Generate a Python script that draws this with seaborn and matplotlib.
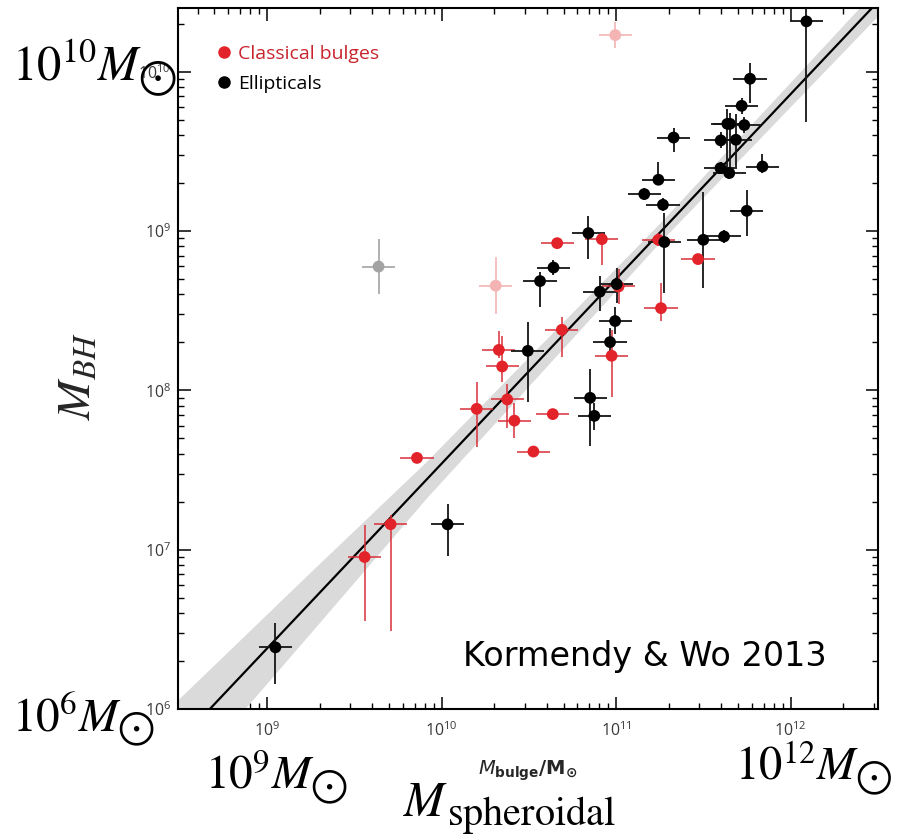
import numpy as np
import pandas as pd
import matplotlib
matplotlib.use("Agg")
import matplotlib.pyplot as plt
import seaborn as sns
from matplotlib.lines import Line2D

# ---------------- data (log10 values) ----------------
# Ellipticals
ell_logm = [9.048, 10.034, 10.494, 10.564, 10.641, 10.841, 10.851, 10.875, 10.906, 10.965,
            10.994, 11.003, 11.161, 11.242, 11.268, 11.276, 11.329, 11.499, 11.599, 11.598,
            11.618, 11.637, 11.652, 11.648, 11.686, 11.719, 11.734, 11.748, 11.767, 11.838, 12.090]
ell_logbh = [6.387, 7.159, 8.248, 8.686, 8.771, 8.987, 7.953, 7.840, 8.619, 8.303,
             8.435, 8.667, 9.232, 9.322, 9.165, 8.931, 9.587, 8.945, 9.569, 9.395,
             8.966, 9.673, 9.673, 9.364, 9.573, 9.786, 9.665, 9.127, 9.956, 9.405, 10.316]
ell_err_lo = [0.23, 0.20, 0.32, 0.16, 0.05, 0.16, 0.30, 0.09, 0.12, 0.06,
              0.08, 0.12, 0.04, 0.03, 0.04, 0.32, 0.09, 0.30, 0.05, 0.04,
              0.04, 0.28, 0.31, 0.04, 0.17, 0.05, 0.05, 0.16, 0.15, 0.04, 0.63]
ell_err_hi = [0.15, 0.13, 0.18, 0.06, 0.05, 0.11, 0.18, 0.08, 0.10, 0.09,
              0.09, 0.10, 0.04, 0.11, 0.04, 0.18, 0.06, 0.30, 0.05, 0.04,
              0.04, 0.09, 0.07, 0.04, 0.16, 0.05, 0.05, 0.13, 0.10, 0.08, 0.12]

# Classical bulges
cb_logm = [9.559, 9.708, 9.859, 10.201, 10.328, 10.347, 10.376, 10.417, 10.526,
           10.637, 10.662, 10.689, 10.918, 10.974, 11.014, 11.242, 11.257, 11.469]
cb_logbh = [6.954, 7.160, 7.576, 7.884, 8.254, 8.150, 7.943, 7.810, 7.616,
            7.851, 8.924, 8.380, 8.949, 8.217, 8.652, 8.945, 8.516, 8.824]
cb_err_lo = [0.40, 0.67, 0.03, 0.24, 0.05, 0.10, 0.18, 0.11, 0.03,
             0.03, 0.03, 0.17, 0.16, 0.26, 0.11, 0.04, 0.08, 0.03]
cb_err_hi = [0.20, 0.06, 0.03, 0.17, 0.12, 0.19, 0.10, 0.11, 0.03,
             0.03, 0.03, 0.08, 0.03, 0.16, 0.11, 0.04, 0.16, 0.03]

# Omitted objects (faded)
omit_cb_logm = [10.310, 10.995]
omit_cb_logbh = [8.657, 10.230]
omit_cb_err = [0.18, 0.08]
omit_e_logm = [9.639]
omit_e_logbh = [8.777]
omit_e_err = [0.17]

xerr_dex = 0.095

# Fit: log(M_BH) = fit_intercept + fit_slope * (log M_bulge - 11)
fit_intercept = 8.70
fit_slope = 1.16
band_logm = [8.40, 9.26, 9.91, 11.26, 12.60]
band_halfwidth = [0.28, 0.19, 0.115, 0.06, 0.09]

# ---------------- styling ----------------
RED = "#e3232a"
RED_BAR = "#d8303a"
PINK = "#f4b4b4"
GRAY = "#a3a3a3"

sns.set_theme(style="ticks")
plt.rcParams["font.family"] = ["Open Sans", "DejaVu Sans"]

fig = plt.figure(figsize=(9.04, 8.40), dpi=100)
ax = fig.add_axes([178 / 904, 1 - 709 / 840, 700 / 904, 701 / 840])
ax.set_xscale("log")
ax.set_yscale("log")
ax.set_xlim(10 ** 8.49, 10 ** 12.5)
ax.set_ylim(10 ** 6, 10 ** 10.40)


def asym(logv, lo, hi):
    logv = np.asarray(logv); lo = np.asarray(lo); hi = np.asarray(hi)
    v = 10 ** logv
    return v, np.vstack([v - 10 ** (logv - lo), 10 ** (logv + hi) - v])


# band + fit line
bx = np.asarray(band_logm)
bfit = fit_intercept + fit_slope * (bx - 11)
ax.fill_between(10 ** bx, 10 ** (bfit - np.asarray(band_halfwidth)),
                10 ** (bfit + np.asarray(band_halfwidth)),
                color="#dadada", lw=0, zorder=1)
lx = np.array([band_logm[0], band_logm[-1]])
sns.lineplot(x=10 ** lx, y=10 ** (fit_intercept + fit_slope * (lx - 11)),
             color="black", lw=1.6, ax=ax, zorder=2)

# error bars
groups = [
    (omit_cb_logm, omit_cb_logbh, omit_cb_err, omit_cb_err, PINK, 1.2),
    (omit_e_logm, omit_e_logbh, omit_e_err, omit_e_err, GRAY, 1.2),
    (cb_logm, cb_logbh, cb_err_lo, cb_err_hi, RED_BAR, 1.1),
    (ell_logm, ell_logbh, ell_err_lo, ell_err_hi, "#151515", 1.3),
]
for lm, lb, elo, ehi, col, lw in groups:
    xv, xe = asym(lm, [xerr_dex] * len(lm), [xerr_dex] * len(lm))
    yv, ye = asym(lb, elo, ehi)
    ax.errorbar(xv, yv, xerr=xe, yerr=ye, fmt="none", ecolor=col, elinewidth=lw,
                capsize=0, zorder=3)

# points
df = pd.concat([
    pd.DataFrame({"mbulge": 10 ** np.asarray(omit_cb_logm), "mbh": 10 ** np.asarray(omit_cb_logbh), "group": "omit_cb"}),
    pd.DataFrame({"mbulge": 10 ** np.asarray(omit_e_logm), "mbh": 10 ** np.asarray(omit_e_logbh), "group": "omit_e"}),
    pd.DataFrame({"mbulge": 10 ** np.asarray(cb_logm), "mbh": 10 ** np.asarray(cb_logbh), "group": "Classical bulges"}),
    pd.DataFrame({"mbulge": 10 ** np.asarray(ell_logm), "mbh": 10 ** np.asarray(ell_logbh), "group": "Ellipticals"}),
], ignore_index=True)
palette = {"omit_cb": PINK, "omit_e": GRAY, "Classical bulges": RED, "Ellipticals": "black"}
sns.scatterplot(data=df, x="mbulge", y="mbh", hue="group", palette=palette, s=72,
                linewidth=0, legend=False, ax=ax, zorder=4)

# legend
handles = [Line2D([], [], marker="o", ls="", color=RED, markersize=8),
           Line2D([], [], marker="o", ls="", color="black", markersize=8)]
leg = ax.legend(handles, ["Classical bulges", "Ellipticals"], loc="upper left",
                bbox_to_anchor=(0.045, 0.961), frameon=False, fontsize=14,
                handlelength=0.54, handletextpad=0.45, labelspacing=0.62, borderpad=0)
leg.get_texts()[0].set_color("#c8242e")
leg.get_texts()[1].set_color("black")

# axes styling
for s in ax.spines.values():
    s.set_linewidth(1.5)
    s.set_color("black")
ax.tick_params(which="both", direction="in", top=True, right=True, colors="black",
               labelcolor="#3a3a3a", labelsize=11.5)
ax.tick_params(which="major", length=9, width=1.1)
ax.tick_params(which="minor", length=4.5, width=1.0)
ax.tick_params(axis="x", which="major", pad=9)
ax.tick_params(axis="y", which="major", pad=5)
ax.set_xlabel(r"$\mathbf{\mathit{M}_{bulge}/M_{\odot}}$", fontsize=14, labelpad=13)
ax.set_ylabel("")

# overlay annotations
big = dict(math_fontfamily="stix", color="black", va="baseline", ha="left")
fig.text(12 / 904, 1 - 81 / 840, r"$10^{10}M_{\bigodot}$", fontsize=35, **big)
fig.text(12 / 904, 1 - 732 / 840, r"$10^{6}M_{\bigodot}$", fontsize=34, **big)
fig.text(205 / 904, 1 - 790 / 840, r"$10^{9}M_{\bigodot}$", fontsize=34, **big)
fig.text(735 / 904, 1 - 781 / 840, r"$10^{12}M_{\bigodot}$", fontsize=33.5, **big)
fig.text(403 / 904, 1 - 816 / 840, r"$M$", fontsize=35, **big)
fig.text(447 / 904, 1 - 825 / 840, r"$\mathrm{spheroidal}$", fontsize=29, **big)
fig.text(78 / 904, 1 - 376 / 840, r"$M_{BH}$", fontsize=34, rotation=90,
         math_fontfamily="stix", ha="center", va="center")
fig.text(463 / 904, 1 - 666 / 840, "Kormendy & Wo 2013", fontsize=24,
         family=["DejaVu Sans"], color="black", ha="left", va="baseline")

fig.savefig("out.png", dpi=100, facecolor="white")
